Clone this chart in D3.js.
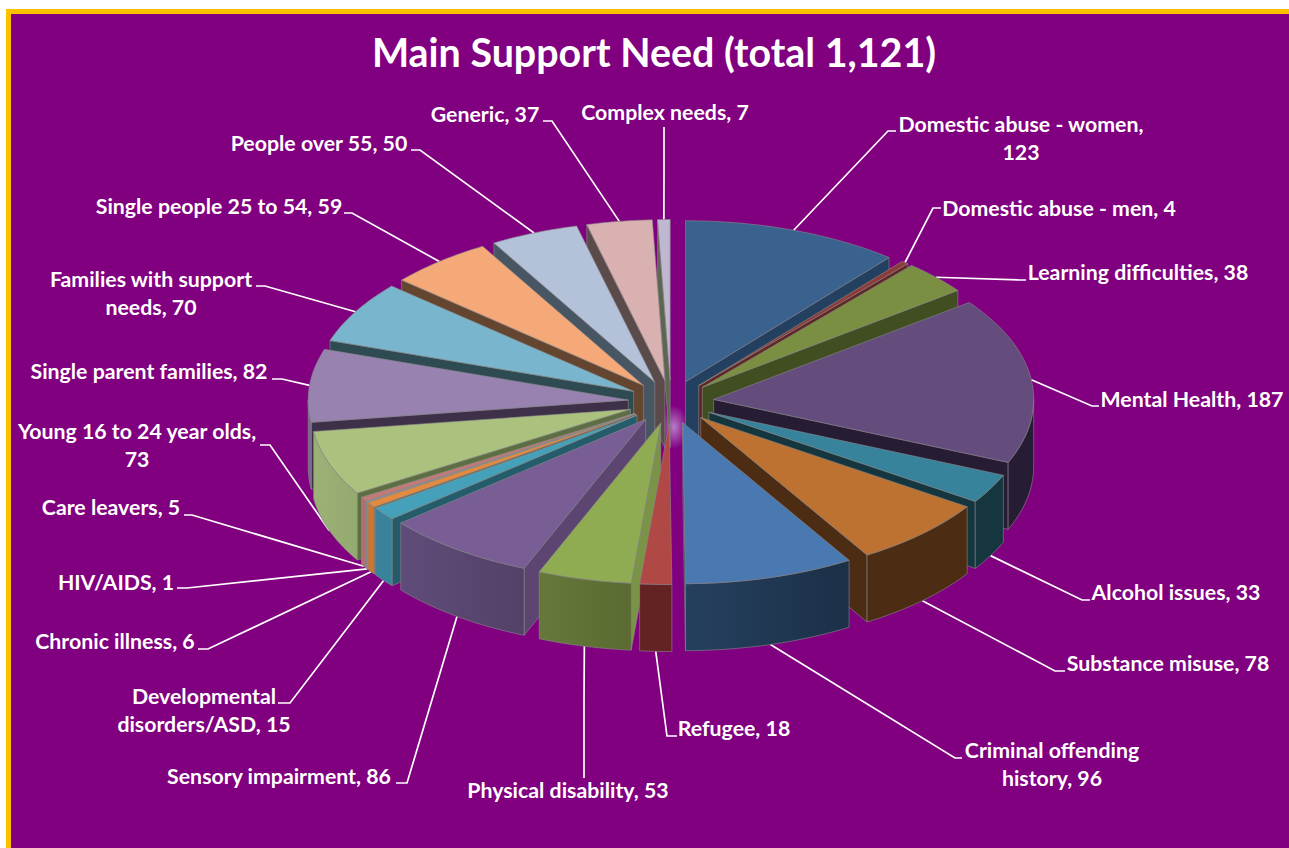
<!DOCTYPE html>
<html>
<head>
<meta charset="utf-8">
<title>Main Support Need</title>
<script src="https://cdnjs.cloudflare.com/ajax/libs/d3/7.8.5/d3.min.js"></script>
<style>
  html, body { margin: 0; padding: 0; background: #fff; }
  svg { display: block; }
  text { font-family: Lato, "Open Sans", sans-serif; font-weight: 700; fill: #fff; }
</style>
</head>
<body>
<svg id="chart" width="1289" height="848"></svg>
<script>
// Support need categories and household counts, clockwise from twelve o'clock
const categories = [
  "Domestic abuse - women", "Domestic abuse - men", "Learning difficulties", "Mental Health",
  "Alcohol issues", "Substance misuse", "Criminal offending history", "Refugee",
  "Physical disability", "Sensory impairment", "Developmental disorders/ASD", "Chronic illness",
  "HIV/AIDS", "Care leavers", "Young 16 to 24 year olds", "Single parent families",
  "Families with support needs", "Single people 25 to 54", "People over 55", "Generic", "Complex needs"
];
const values = [123, 4, 38, 187, 33, 78, 96, 18, 53, 86, 15, 6, 1, 5, 73, 82, 70, 59, 50, 37, 7];

// Face colours
const topColours = [
  "#3a628e", "#8e3c3a", "#7a8f41", "#644c7c", "#38839c", "#bd7231", "#4a78b0",
  "#b04846", "#8fac53", "#785e95", "#45a0b9", "#e38a3c", "#8f9fc0", "#c07a78",
  "#abc27f", "#9882b0", "#79b6ce", "#f5a878", "#b3c1d9", "#d9b1b0", "#c0b8d0"
];
const wallColours = [
  "#244060", "#5f2826", "#414e22", "#261c33", "#15353f", "#4c2c12", "#1c3047",
  "#632322", "#7a9347", "#5c4570", "#255c6b", "#7a5a3f", "#6f7f9a", "#8d6464",
  "#5e6e43", "#3f3049", "#2e4a52", "#644530", "#485562", "#5b4a4a", "#5d6750"
];
const rimLeftColours = [
  "#244060", "#5f2826", "#414e22", "#261c33", "#15353f", "#4c2c12", "#25405f",
  "#632322", "#66793a", "#5f4c7a", "#38829a", "#cc7630", "#7f90ad", "#b0706e",
  "#9cb176", "#77698c", "#2e4a52", "#644530", "#485562", "#5b4a4a", "#5d6750"
];
const rimRightColours = [
  "#244060", "#5f2826", "#414e22", "#261c33", "#15353f", "#4c2c12", "#1c3047",
  "#632322", "#5a6a31", "#534167", "#38829a", "#cc7630", "#7f90ad", "#b0706e",
  "#95aa70", "#77698c", "#2e4a52", "#644530", "#485562", "#5b4a4a", "#5d6750"
];

// Label text, one entry per line
const labelLines = [
  ["Domestic abuse - women,", "123"], ["Domestic abuse - men, 4"], ["Learning difficulties, 38"],
  ["Mental Health, 187"], ["Alcohol issues, 33"], ["Substance misuse, 78"],
  ["Criminal offending", "history, 96"], ["Refugee, 18"], ["Physical disability, 53"],
  ["Sensory impairment, 86"], ["Developmental", "disorders/ASD, 15"], ["Chronic illness, 6"],
  ["HIV/AIDS, 1"], ["Care leavers, 5"], ["Young 16 to 24 year olds,", "73"],
  ["Single parent families, 82"], ["Families with support", "needs, 70"],
  ["Single people 25 to 54, 59"], ["People over 55, 50"], ["Generic, 37"], ["Complex needs, 7"]
];

// Label placement: text centre, first line y, and the leader's elbow and end
const labelCentreX = [1021, 1059, 1138, 1192, 1176, 1168, 1052, 734, 568, 279, 204, 115, 116, 111, 137, 149, 151, 219, 319, 485, 665];
const labelFirstY = [125, 209, 273, 400, 593, 664, 751, 729, 791, 777, 697, 642, 583, 508, 432, 372, 280, 207, 144, 115, 113];
const leaderElbow = [
  [888, 131], [933, 208], [1020, 280], [1092, 406], [1082, 600], [1055, 671], [955, 758],
  [667, 736], [584, 700], [407, 783], [290, 703], [208, 649], [187, 588], [192, 515],
  [270, 445], [282, 379], [265, 286], [352, 213], [420, 150], [552, 121], [664, 170]
];
const leaderEnd = [
  [896, 131], [941, 208], [1026, 280], [1099, 406], [1090, 600], [1065, 671], [962, 758],
  [677, 736], [584, 778], [396, 783], [278, 703], [198, 649], [177, 588], [184, 515],
  [260, 445], [272, 379], [256, 286], [344, 213], [411, 150], [543, 121], [664, 127]
];

const width = 1289, height = 848;
const svg = d3.select("#chart");

// Page frame
svg.append("rect").attr("x", 6).attr("y", 9).attr("width", width - 6).attr("height", height - 9).attr("fill", "#ffc000");
svg.append("rect").attr("x", 11).attr("y", 14).attr("width", width - 11).attr("height", height - 14).attr("fill", "#800080");

svg.append("text")
  .attr("x", 654).attr("y", 53).attr("dy", "0.35em")
  .attr("text-anchor", "middle").style("font-size", "39.4px")
  .text("Main Support Need (total 1,121)");

// Tilted, exploded pie geometry
const cx = 671, cy = 402, radius = 320, tilt = 0.5, explode = 43, depth = 67;
const px = d3.scaleLinear().domain([-1, 1]).range([-radius, radius]);
const py = d3.scaleLinear().domain([-1, 1]).range([-161, 161]);
const ex = d3.scaleLinear().domain([-1, 1]).range([cx - explode, cx + explode]);
const ey = d3.scaleLinear().domain([-1, 1]).range([cy - explode * tilt, cy + explode * tilt]);

const arcs = d3.pie().sort(null).value(d => d)(values).map((a, i) => {
  const mid = (a.startAngle + a.endAngle) / 2;
  return { ...a, i, mid, ax: ex(Math.sin(mid)), ay: ey(-Math.cos(mid)) };
});

const rimPoint = (a, t, drop = 0) => [a.ax + px(Math.sin(t)), a.ay + py(-Math.cos(t)) + drop];
const line = d3.line();

function arcPoints(a, t0, t1, drop = 0) {
  const n = Math.max(2, Math.ceil((t1 - t0) / 0.02));
  return d3.range(n + 1).map(k => rimPoint(a, t0 + (t1 - t0) * k / n, drop));
}

// Horizontal shading along each outer wall
const defs = svg.append("defs");
arcs.forEach(a => {
  const g = defs.append("linearGradient").attr("id", "rim" + a.i);
  g.append("stop").attr("offset", "0%").attr("stop-color", rimLeftColours[a.i]);
  g.append("stop").attr("offset", "100%").attr("stop-color", rimRightColours[a.i]);
});
const glow = defs.append("radialGradient").attr("id", "glow");
glow.append("stop").attr("offset", "0%").attr("stop-color", "#b67cc6");
glow.append("stop").attr("offset", "100%").attr("stop-color", "#800080");

// Small highlight showing through the gap at the centre
svg.append("ellipse")
  .attr("cx", 674).attr("cy", 427).attr("rx", 14).attr("ry", 22)
  .attr("fill", "url(#glow)");

// Leader lines run from the slice edge to the label
const leaders = svg.append("g").attr("fill", "none").attr("stroke", "#fff").attr("stroke-width", 1.7);
arcs.forEach(a => {
  const lower = a.mid > Math.PI / 2 && a.mid < 3 * Math.PI / 2;
  const start = rimPoint(a, a.mid, lower ? depth : 0);
  leaders.append("path").attr("d", line([start, leaderElbow[a.i], leaderEnd[a.i]]));
});

// Paint slices from the back of the pie to the front
const order = arcs.slice().sort((p, q) =>
  Math.abs(Math.PI - q.mid) - Math.abs(Math.PI - p.mid));

const slices = svg.append("g").attr("stroke", "#8a8a8a").attr("stroke-width", 0.8).attr("stroke-opacity", 0.75)
  .attr("stroke-linejoin", "round");

order.forEach(a => {
  const g = slices.append("g");
  const wall = t => {
    const edge = rimPoint(a, t);
    return line([[a.ax, a.ay], edge, [edge[0], edge[1] + depth], [a.ax, a.ay + depth]]) + "Z";
  };
  if (Math.sin(a.endAngle) > 0) g.append("path").attr("d", wall(a.endAngle)).attr("fill", wallColours[a.i]);
  if (Math.sin(a.startAngle) < 0) g.append("path").attr("d", wall(a.startAngle)).attr("fill", wallColours[a.i]);

  const t0 = Math.max(a.startAngle, Math.PI / 2), t1 = Math.min(a.endAngle, 3 * Math.PI / 2);
  if (t1 > t0) {
    const rim = arcPoints(a, t0, t1).concat(arcPoints(a, t0, t1, depth).reverse());
    g.append("path").attr("d", line(rim) + "Z").attr("fill", `url(#rim${a.i})`);
  }

  const top = [[a.ax, a.ay]].concat(arcPoints(a, a.startAngle, a.endAngle));
  g.append("path").attr("d", line(top) + "Z").attr("fill", topColours[a.i]);
});

// Data labels
const labels = svg.append("g").attr("text-anchor", "middle").style("font-size", "21.3px");
arcs.forEach(a => {
  labelLines[a.i].forEach((t, k) => {
    labels.append("text")
      .attr("x", labelCentreX[a.i]).attr("y", labelFirstY[a.i] + k * 28).attr("dy", "0.35em")
      .text(t);
  });
});
</script>
</body>
</html>
